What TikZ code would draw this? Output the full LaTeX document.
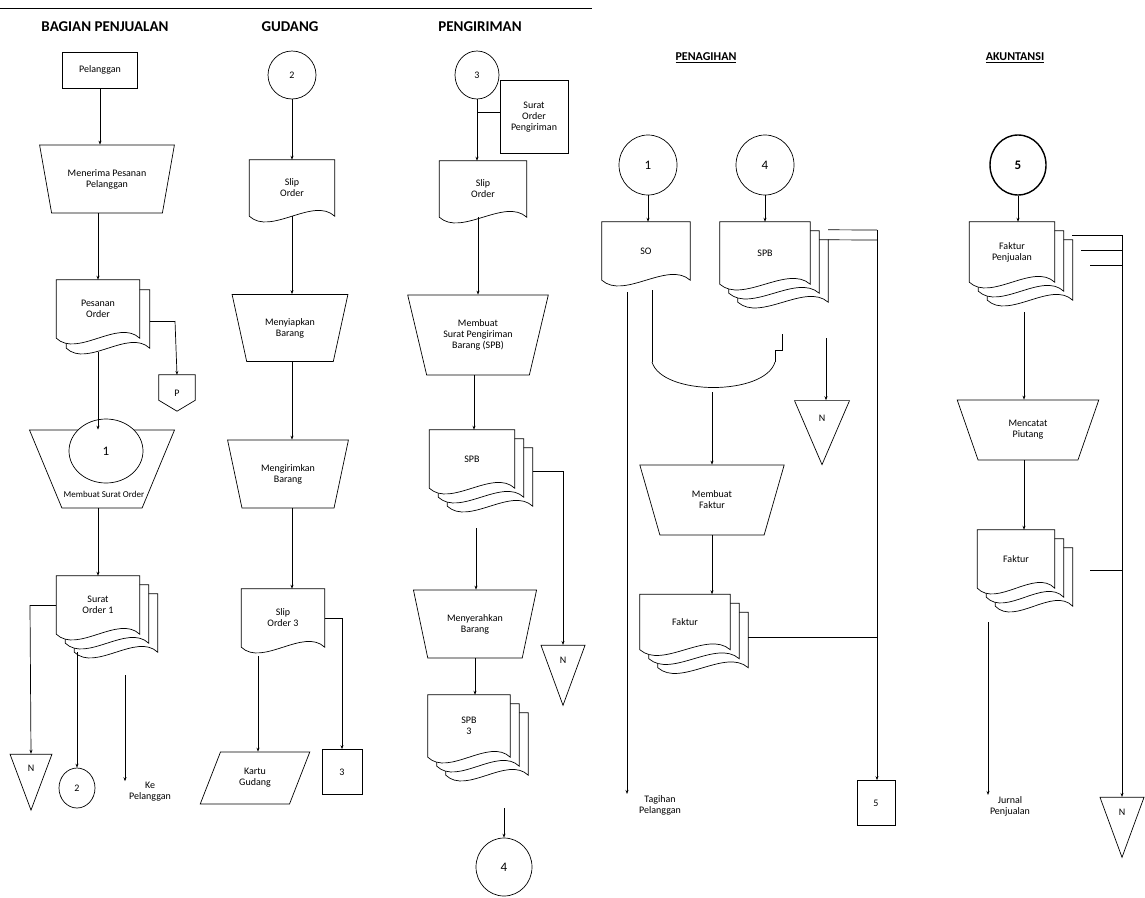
\documentclass[tikz,border=0pt]{standalone}
\usepackage{fontspec}
\setmainfont{Carlito}
\usetikzlibrary{shapes.geometric,arrows.meta,calc,backgrounds}

\tikzset{
  x=1pt, y=-1pt,
  every node/.style={font=\fontsize{10}{11}\selectfont, align=center, inner sep=1pt},
  ln/.style={draw, line width=0.7pt},
  arr/.style={ln, -{Stealth[length=4pt,width=3pt]}},
  docline/.style={draw, fill=white, line width=0.7pt},
  docbox/.style={draw=none, rectangle},
  manop/.style={draw, line width=0.7pt, trapezium, shape border rotate=180,
     trapezium stretches=true, trapezium left angle=68, trapezium right angle=68},
  para/.style={draw, line width=0.7pt, trapezium, trapezium stretches=true,
     trapezium left angle=65, trapezium right angle=115},
  filetri/.style={draw, line width=0.7pt, isosceles triangle, shape border rotate=-90,
     isosceles triangle stretches=true, inner sep=0pt},
  conn/.style={draw, ellipse, line width=0.7pt, fill=white, font=\fontsize{13}{14}\selectfont},
  sconn/.style={conn, font=\fontsize{10}{11}\selectfont},
  bconn/.style={conn, line width=1.4pt, font=\bfseries\fontsize{13}{14}\selectfont},
  hdr/.style={font=\bfseries\fontsize{15}{16}\selectfont},
  hdrul/.style={font=\bfseries\fontsize{12}{13}\selectfont},
  smallbox/.style={draw, line width=0.7pt, rectangle},
  txt/.style={font=\fontsize{10}{11}\selectfont}
}

% document outline behind node #1, offset (#2,#3)
\newcommand{\docout}[3]{%
  \begin{pgfonlayer}{background}
  \path ($(#1.south west)+(#2,#3)$) coordinate (dSW)
        ($(#1.north west)+(#2,#3)$) coordinate (dNW)
        ($(#1.north east)+(#2,#3)$) coordinate (dNE)
        ($(#1.south east)+(#2,#3)$) coordinate (dSE)
        ($(#1.south)+(#2,#3)$) coordinate (dS);
  \draw[docline] (dSW) -- (dNW) -- (dNE) -- (dSE)
     .. controls ($(dSE)!0.5!(dS)+(0pt,20pt)$) and ($(dSW)!0.5!(dS)+(0pt,-20pt)$) .. (dSW) -- cycle;
  \end{pgfonlayer}}
\newcommand{\onedoc}[1]{\docout{#1}{0pt}{0pt}}
\newcommand{\twodoc}[1]{\docout{#1}{10pt}{-10pt}\docout{#1}{0pt}{0pt}}
\newcommand{\multidoc}[1]{\docout{#1}{18pt}{-18pt}\docout{#1}{9pt}{-9pt}\docout{#1}{0pt}{0pt}}
% off-page connector outline
\newcommand{\offpage}[1]{%
  \begin{pgfonlayer}{background}
  \draw[docline] (#1.north west) -- (#1.north east) -- ($(#1.north east)!0.7!(#1.south east)$)
     -- (#1.south) -- ($(#1.north west)!0.7!(#1.south west)$) -- cycle;
  \end{pgfonlayer}}

\begin{document}
\begin{tikzpicture}
\useasboundingbox (0,0) rectangle (1145,897);

% ---------- top rule and headers ----------
\coordinate (tl) at (0,8);
\coordinate (tr) at (592,8);
\draw[line width=1pt] (tl) -- (tr);
\node[hdr] (h1) at (105,27) {BAGIAN PENJUALAN};
\node[hdr] (h2) at (290,27) {GUDANG};
\node[hdr] (h3) at (480,27) {PENGIRIMAN};
\node[hdrul] (h4) at (706,58) {\underline{PENAGIHAN}};
\node[hdrul] (h5) at (1015,58) {\underline{AKUNTANSI}};

% ---------- column 1 ----------
\node[smallbox, minimum width=75pt, minimum height=36pt] (n1a) at (100,70) {Pelanggan};
\node[manop, minimum width=135pt, minimum height=68pt] (n1b) at (107,179) {Menerima Pesanan\\Pelanggan};
\node[docbox, minimum width=83pt, minimum height=58pt] (n1c) at (98,309) {Pesanan\\Order};
\twodoc{n1c}
\node[docbox, minimum width=36pt, minimum height=36pt] (n1d) at (177,393) {P};
\offpage{n1d}
\node[manop, minimum width=145pt, minimum height=78pt] (n1e) at (102,469) {};
\node[conn, minimum width=74pt, minimum height=64pt] (c1a) at (106,451) {1};
\node[txt, font=\fontsize{9}{10}\selectfont] (n1et) at (104,494) {Membuat Surat Order};
\node[docbox, minimum width=83pt, minimum height=58pt] (n1f) at (98,605) {Surat\\Order 1};
\multidoc{n1f}
\node[filetri, minimum width=42pt, minimum height=56pt] (n1g) at (31,768) {N};
\node[sconn, minimum width=36pt, minimum height=40pt] (n1h) at (77,788) {2};
\node[txt] (n1i) at (150,792) {Ke\\Pelanggan};

\draw[arr] (n1a.south) -- (n1a.south |- n1b.north);
\draw[arr] (n1b.south -| n1c.north) -- (n1c.north);
\draw[ln] ($(n1c.east)+(10pt,-12pt)$) coordinate (k0) -- (175,321) coordinate (k1);
\draw[arr] (k1) -- (n1d.north);
\coordinate (k1b) at ($(n1c.south)+(0pt,-14pt)$);
\draw[arr] (k1b) -- (k1b |- n1e.north);
\draw[arr] (n1e.south -| n1f.north) -- (n1f.north);
\draw[ln] (n1f.west) -- (30,605) coordinate (k2);
\draw[arr] (k2) -- (n1g.north);
\draw[arr] (77,652) coordinate (k3) -- (n1h.north);
\draw[arr] (125,675) coordinate (k4) -- (n1i.north -| k4);

% ---------- column 2 ----------
\node[sconn, minimum width=48pt, minimum height=48pt] (n2a) at (292,75) {2};
\node[docbox, minimum width=85pt, minimum height=56pt] (n2b) at (292,188) {Slip\\Order};
\onedoc{n2b}
\node[manop, minimum width=116pt, minimum height=67pt] (n2c) at (290,328) {Menyiapkan\\Barang};
\node[manop, minimum width=121pt, minimum height=68pt] (n2d) at (288,474) {Mengirimkan\\Barang};
\node[docbox, minimum width=83pt, minimum height=58pt] (n2e) at (283,618) {Slip\\Order 3};
\onedoc{n2e}
\node[para, minimum width=110pt, minimum height=52pt] (n2f) at (255,778) {Kartu\\Gudang};
\node[smallbox, minimum width=40pt, minimum height=45pt] (n2g) at (342,772) {3};

\draw[arr] (n2a) -- (n2b);
\draw[arr] (n2b.south) -- (n2b.south |- n2c.north);
\draw[arr] (n2c.south -| n2b.south) -- (n2b.south |- n2d.north);
\draw[arr] (n2d.south -| n2b.south) -- (n2b.south |- n2e.north);
\draw[arr] (258,656) coordinate (k5) -- (n2f.north -| k5);
\draw[ln] (n2e.east) -- (342,618) coordinate (k6);
\draw[arr] (k6) -- (n2g.north);

% ---------- column 3 ----------
\node[sconn, minimum width=44pt, minimum height=48pt] (n3a) at (477,75) {3};
\node[smallbox, minimum width=68pt, minimum height=73pt] (n3b) at (534,117) {Surat\\Order\\Pengiriman};
\node[docbox, minimum width=87pt, minimum height=56pt] (n3c) at (483,189) {Slip\\Order};
\onedoc{n3c}
\node[manop, minimum width=141pt, minimum height=80pt] (n3d) at (478,335) {Membuat\\Surat Pengiriman\\Barang (SPB)};
\node[docbox, minimum width=85pt, minimum height=58pt] (n3e) at (472,459) {SPB};
\multidoc{n3e}
\node[filetri, minimum width=44pt, minimum height=60pt] (n3f) at (563,660) {N};
\node[manop, minimum width=124pt, minimum height=68pt] (n3g) at (475,624) {Menyerahkan\\Barang};
\node[docbox, minimum width=82pt, minimum height=62pt] (n3h) at (469,726) {SPB\\3};
\multidoc{n3h}
\node[conn, minimum width=56pt, minimum height=58pt] (c4a) at (504,867) {4};

\draw[arr] (n3a.south) -- (n3a.south |- n3c.north);
\draw[ln] (477,112) coordinate (k7) -- (n3b.west |- k7);
\draw[arr] (n3c.south -| n3d.north) -- (n3d.north);
\draw[arr] (n3d.south -| 474,0) -- (n3e.north -| 474,0);
\draw[ln] ($(n3e.east)+(18pt,-12pt)$) coordinate (k8) -- (k8 -| n3f.north) coordinate (k9);
\draw[arr] (k9) -- (n3f.north);
\draw[arr] (476,528) coordinate (k10) -- (n3g.north -| k10);
\draw[arr] (n3g.south) -- (n3g.south |- n3h.north);
\draw[arr] (504,808) coordinate (k11) -- (c4a.north);

% ---------- PENAGIHAN ----------
\node[conn, minimum width=58pt, minimum height=60pt] (c1b) at (648,165) {1};
\node[conn, minimum width=58pt, minimum height=60pt] (c4b) at (765,165) {4};
\node[docbox, minimum width=88pt, minimum height=58pt] (p1) at (646,251) {SO};
\onedoc{p1}
\node[docbox, minimum width=90pt, minimum height=62pt] (p2) at (765,253) {SPB};
\multidoc{p2}
\node[filetri, minimum width=55pt, minimum height=64pt] (p3) at (822,418) {N};
\node[manop, minimum width=145pt, minimum height=70pt] (p4) at (712,500) {Membuat\\Faktur};
\node[docbox, minimum width=90pt, minimum height=55pt] (p5) at (685,622) {Faktur};
\multidoc{p5}
\node[txt] (p6) at (660,805) {Tagihan\\Pelanggan};
\node[smallbox, minimum width=38pt, minimum height=45pt] (p7) at (876,803) {5};

\draw[arr] (c1b.south) -- (c1b.south |- p1.north);
\draw[arr] (c4b) -- (p2);
\coordinate (m) at (712,392);
\draw[ln] (652,290) coordinate (k12) -- (652,362) coordinate (k13);
\draw[ln] (782,334) coordinate (k14) -- (782,350) -- (775,350) -- (775,362) coordinate (k15);
\draw[ln] (k13) .. controls (662,396) and (765,396) .. (k15);
\draw[arr] (m) -- (m |- p4.north);
\draw[arr] (826,338) coordinate (k16) -- (p3.north -| k16);
\draw[arr] (p4.south) -- (p4.south |- p5.north);
\draw[arr] (627,292) coordinate (k17) -- (p6.north -| k17);
\draw[ln] ($(p2.north east)+(18pt,-8pt)$) coordinate (k18) -- (877,230) coordinate (k19);
\draw[ln] ($(p2.north east)+(18pt,-18pt)$) coordinate (k20) -- (877,240);
\draw[arr] (k19) -- (p7.north -| k19);
\draw[ln] ($(p5.east)+(18pt,-15pt)$) coordinate (k21) -- (k21 -| k19);

% ---------- AKUNTANSI ----------
\node[bconn, minimum width=56pt, minimum height=60pt] (c5) at (1018,165) {5};
\node[docbox, minimum width=85pt, minimum height=60pt] (a1) at (1012,252) {Faktur\\Penjualan};
\multidoc{a1}
\node[manop, minimum width=142pt, minimum height=60pt] (a2) at (1028,430) {Mencatat\\Piutang};
\node[docbox, minimum width=77pt, minimum height=58pt] (a3) at (1016,559) {Faktur};
\multidoc{a3}
\node[txt] (a4) at (1010,806) {Jurnal\\Penjualan};
\node[filetri, minimum width=44pt, minimum height=60pt] (a5) at (1122,812) {N};

\draw[arr] (c5.south) -- (c5.south |- a1.north);
\draw[arr] (1024,312) coordinate (k22) -- (a2.north -| k22);
\draw[arr] (a2.south -| k22) -- (k22 |- a3.north);
\draw[ln] (1072,235) coordinate (k24) -- (1122,235) coordinate (k25);
\draw[ln] (1081,250) -- (1122,250);
\draw[ln] (1090,265) -- (1122,265);
\draw[arr] (k25) -- (a5.north);
\draw[ln] (1090,570) -- (1122,570);
\draw[arr] (988,622) coordinate (k26) -- (a4.north -| k26);
\end{tikzpicture}
\end{document}
